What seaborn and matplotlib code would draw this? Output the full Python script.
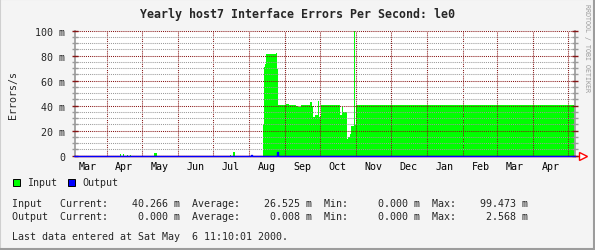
import numpy as np
import pandas as pd
import matplotlib
matplotlib.use("Agg")
import matplotlib.pyplot as plt
import matplotlib.dates as mdates
from matplotlib.ticker import MultipleLocator, FuncFormatter
from matplotlib.patches import Rectangle
import seaborn as sns

# ---------------- data ----------------
title = "Yearly host7 Interface Errors Per Second: le0"
y_label = "Errors/s"
x_start = "1999-03-04 19:27"
x_end = "2000-05-06 18:00"

in_dates = ["1999-03-04", "1999-04-12", "1999-04-13", "1999-04-15", "1999-04-16",
            "1999-04-18", "1999-04-19", "1999-04-21", "1999-04-22", "1999-05-12",
            "1999-05-14", "1999-07-16", "1999-07-17", "1999-07-18", "1999-07-20",
            "1999-08-13", "1999-08-14", "1999-08-15", "1999-08-16", "1999-08-24",
            "1999-08-25", "1999-08-26", "1999-09-02", "1999-09-04", "1999-09-10",
            "1999-09-12", "1999-09-15", "1999-09-22", "1999-09-24", "1999-09-25",
            "1999-09-27", "1999-09-29", "1999-09-30", "1999-10-02", "1999-10-18",
            "1999-10-20", "1999-10-21", "1999-10-24", "1999-10-25", "1999-10-27",
            "1999-10-28", "1999-10-30", "1999-10-31", "1999-11-01", "2000-05-06 18:00"]
in_vals = [0, 1.6, 0, 1.0, 0,
           0.8, 0, 0.8, 0, 2.4,
           0, 0.8, 0, 3.2, 0,
           24.5, 70.7, 73.0, 81.4, 82.0,
           69.0, 40.5, 41.0, 40.5, 39.7,
           39.0, 40.5, 43.0, 40.0, 30.7,
           32.6, 43.8, 31.0, 40.5, 32.6,
           39.0, 35.0, 13.4, 14.7, 17.3,
           23.9, 99.5, 24.5, 40.3, 40.3]

out_dates = ["1999-03-04", "1999-08-03", "1999-08-04", "1999-08-25", "1999-08-26", "2000-05-06 18:00"]
out_vals = [0, 0.9, 0, 2.57, 0, 0]

legend_labels = ["Input", "Output"]
stats_rows = [
    "Input   Current:    40.266 m  Average:    26.525 m  Min:     0.000 m  Max:    99.473 m",
    "Output  Current:     0.000 m  Average:     0.008 m  Min:     0.000 m  Max:     2.568 m",
]
footer = "Last data entered at Sat May  6 11:10:01 2000."
credit = "RRDTOOL / TOBI OETIKER"

# ---------------- style ----------------
sns.set_style("white")
plt.rcParams["font.family"] = ["DejaVu Sans Mono", "DejaVu Sans"]

W, H = 595, 251
BG = "#f4f4f4"
GREEN = "#00ff00"
BLUE = "#0000ff"
MAJ = "#861414"
MINC = "#9a9a9a"
FS = 7.2

fig = plt.figure(figsize=(W / 100, H / 100), dpi=100, facecolor=BG)
ax = fig.add_axes([75 / W, 1 - 156.7 / H, 500 / W, 125 / H])
ax.set_facecolor("white")

df_in = pd.DataFrame({"date": pd.to_datetime(in_dates, format="mixed"), "val": in_vals})
df_out = pd.DataFrame({"date": pd.to_datetime(out_dates, format="mixed"), "val": out_vals})

ax.fill_between(df_in["date"], 0, df_in["val"], step="post", color=GREEN, lw=0, zorder=1)
sns.lineplot(data=df_out, x="date", y="val", ax=ax, color=BLUE, lw=1.0,
             drawstyle="steps-post", zorder=4, legend=False, clip_on=False)

ax.set_xlim(pd.Timestamp(x_start), pd.Timestamp(x_end))
ax.set_ylim(0, 100)

# axes/ticks
ax.xaxis.set_major_locator(mdates.MonthLocator(bymonthday=1))
ax.xaxis.set_major_formatter(FuncFormatter(lambda v, p: ""))
ax.xaxis.set_minor_locator(mdates.MonthLocator(bymonthday=16))
ax.xaxis.set_minor_formatter(mdates.DateFormatter("%b"))
ax.yaxis.set_major_locator(MultipleLocator(20))
ax.yaxis.set_minor_locator(MultipleLocator(5))
ax.yaxis.set_major_formatter(FuncFormatter(lambda v, p: "0" if v == 0 else f"{v:g} m"))

ax.set_axisbelow(False)
ax.grid(which="major", axis="both", color=MAJ, ls=(0, (1, 1)), lw=0.75, zorder=2.5)
ax.yaxis.grid(which="minor", color=MINC, ls=(0, (1, 1)), lw=0.75)
ax.xaxis.grid(which="minor", visible=False)

ax.tick_params(axis="x", which="minor", length=0, pad=3.5, labelsize=FS, colors="black")
ax.tick_params(axis="x", which="major", length=3, width=1, color="#cc0000", direction="inout")
ax.tick_params(axis="y", which="both", left=True, right=True, direction="inout", labelsize=FS)
ax.tick_params(axis="y", which="major", length=5, width=1, color=MAJ, pad=4.5)
ax.tick_params(axis="y", which="minor", length=4, width=1, color=MINC)

for s in ["left", "right"]:
    ax.spines[s].set_color("#a0a0a0")
    ax.spines[s].set_linewidth(1.3)
ax.spines["top"].set_visible(False)
ax.spines["bottom"].set_color("#cc0000")
ax.spines["bottom"].set_linewidth(1.0)
ax.set_xlabel("")
ax.set_ylabel("")

# arrow at end of x axis
ax.plot([1.0, 1.012], [0, 0], transform=ax.transAxes, clip_on=False, color="#ff0000", lw=1.0)
ax.plot([1.016], [0], transform=ax.transAxes, clip_on=False, marker=">", ms=5.5,
        mfc="white", mec="#ff0000", mew=1.0)

def fy(y):
    return 1 - y / H

def fx(x):
    return x / W

fig.text(fx(298), fy(15), title, ha="center", va="center", fontsize=8.4, fontweight="bold")
fig.text(fx(12.5), fy(95), y_label, ha="center", va="center", rotation=90, fontsize=FS)
fig.text(fx(587.5), fy(48), credit, ha="center", va="center", rotation=270,
         fontsize=4.8, color="#9a9a9a")

# legend
for (x0, col, lab) in [(12.5, GREEN, legend_labels[0]), (67.5, BLUE, legend_labels[1])]:
    fig.add_artist(Rectangle((fx(x0), fy(187)), 7 / W, 7 / H, transform=fig.transFigure,
                             facecolor=col, edgecolor="black", lw=0.7))
    fig.text(fx(x0 + 14.5), fy(183.5), lab, ha="left", va="center", fontsize=FS)

fig.text(fx(12), fy(204), stats_rows[0], ha="left", va="center", fontsize=FS)
fig.text(fx(12), fy(217.3), stats_rows[1], ha="left", va="center", fontsize=FS)
fig.text(fx(12), fy(237.3), footer, ha="left", va="center", fontsize=FS)

# frame
fig.add_artist(Rectangle((0, 0), 1, 1, transform=fig.transFigure, fill=False,
                         edgecolor="#cfcfcf", lw=1.5))
fig.add_artist(plt.Line2D([1 - 1 / W, 1 - 1 / W], [0, 1], transform=fig.transFigure,
                          color="#9c9c9c", lw=1.5))
fig.add_artist(plt.Line2D([0, 1], [1 / H, 1 / H], transform=fig.transFigure,
                          color="#9c9c9c", lw=1.5))

fig.savefig("out.png", dpi=100, facecolor=BG)
